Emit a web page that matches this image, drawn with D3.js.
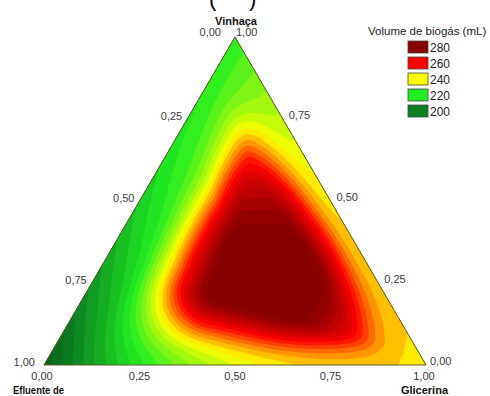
<!DOCTYPE html>
<html>
<head>
<meta charset="utf-8">
<script src="https://cdn.jsdelivr.net/npm/d3@7"></script>
<style>
  body { margin: 0; background: #fff; }
  svg { display: block; }
  text { font-family: Arial, "Liberation Sans", sans-serif; }
</style>
</head>
<body>
<div id="chart"></div>
<script>
const width = 490, height = 396;

// mixture components: left vertex, right vertex, top vertex
const components = ["Efluente de", "Glicerina", "Vinhaça"];
// response surface (mL)
const vertexVolume = [192, 243, 222];          // pure components E, G, V
const binaryTerms = [84, 34, 46];              // E*G, E*V, G*V
const plateauVolume = 285;                     // flat maximum in the middle
// where the rise towards the plateau starts and how wide it is (share of E, G, V)
const rampOffset = [0, 0.022, -0.015];
const offsetGrowth = [0, 0.28, 0];             // extra offset with more Efluente (capped)
const rampWidth = [0.16, 0.243, 0.182];
const widthGrowth = [0, 0.25, 0.4];            // wider towards the Efluente corner
const topRamp = [0.07, 0.6];                   // rounding under the Vinhaça corner
const rightRamp = [0.05, 0.4];                 // rounding beside the Glicerina corner

const tickValues = [0, 0.25, 0.5, 0.75, 1];
const legendLevels = [280, 260, 240, 220, 200];
const legendColors = ["#880000", "#ff0000", "#ffff00", "#22ee22", "#0b7f22"];
const levelStep = 20 / 6;

let svg = d3.select("#chart")
    .append("svg")
    .attr("width", width)
    .attr("height", height);

// x runs along the base (Glicerina share + half of Vinhaça), y is Vinhaça share
let x = d3.scaleLinear().domain([0, 1]).range([44, 426]);
let y = d3.scaleLinear().domain([0, 1]).range([365, 37]);
function toXY(e, g, v) { return [x(g + v / 2), y(v)]; }

function smoothstep(r) {
    r = Math.max(0, Math.min(1, r));
    return r * r * (3 - 2 * r);
}

function volume(e, g, v) {
    let base = vertexVolume[0] * e + vertexVolume[1] * g + vertexVolume[2] * v
        + binaryTerms[0] * e * g + binaryTerms[1] * e * v + binaryTerms[2] * g * v;
    let comp = [e, g, v];
    let s = 1;
    for (let k = 0; k < 3; k++) {
        let o = rampOffset[k] + Math.min(0.05, offsetGrowth[k] * Math.max(0, e - 0.12));
        let w = Math.max(0.08, rampWidth[k] + widthGrowth[k] * (e - 0.3));
        s *= smoothstep((comp[k] - o) / w);
    }
    s *= smoothstep((1 - v - topRamp[0]) / topRamp[1]);
    s *= smoothstep((1 - g - rightRamp[0]) / rightRamp[1]);
    return base + (plateauVolume - base) * s;
}

function volumeAt(px, py) {
    let v = y.invert(py), g = x.invert(px) - v / 2, e = 1 - g - v;
    e = Math.max(e, 0); g = Math.max(g, 0); v = Math.max(v, 0);
    let s = e + g + v;
    return volume(e / s, g / s, v / s);
}

// sample the surface on a pixel grid covering the triangle
const step = 2, gx0 = 40, gy0 = 33;
const nx = Math.ceil((430 - gx0) / step), ny = Math.ceil((369 - gy0) / step);
let grid = new Array(nx * ny);
for (let j = 0; j < ny; j++) {
    for (let i = 0; i < nx; i++) {
        grid[j * nx + i] = volumeAt(gx0 + (i + 0.5) * step, gy0 + (j + 0.5) * step);
    }
}

let color = d3.scaleLinear()
    .domain([188].concat(legendLevels.slice().reverse()))
    .range(["#065a16"].concat(legendColors.slice().reverse()))
    .clamp(true);

let contours = d3.contours()
    .size([nx, ny])
    .thresholds(d3.range(185, 292, levelStep))(grid);

let path = d3.geoPath(d3.geoIdentity().scale(step).translate([gx0, gy0]));

let corners = [toXY(1, 0, 0), toXY(0, 1, 0), toXY(0, 0, 1)];

svg.append("clipPath")
    .attr("id", "tri")
    .append("polygon")
    .attr("points", corners.map(p => p.join(",")).join(" "));

svg.append("g")
    .attr("clip-path", "url(#tri)")
    .selectAll("path")
    .data(contours)
    .enter()
    .append("path")
    .attr("d", path)
    .attr("fill", d => color(d.value));

svg.append("polygon")
    .attr("points", corners.map(p => p.join(",")).join(" "))
    .attr("fill", "none")
    .attr("stroke", "#5c5c28")
    .attr("stroke-width", 1);

// tick labels
let fmt = d => d3.format(".2f")(d).replace(".", ",");
let ticks = svg.append("g")
    .attr("font-size", 11)
    .attr("fill", "#3a3a3a");

// left side: Efluente share, 0 at the top
ticks.selectAll(".tl").data(tickValues).enter().append("text")
    .attr("x", d => toXY(d, 0, 1 - d)[0] - (d === 0 ? 14 : d === 1 ? 9 : 5))
    .attr("y", d => toXY(d, 0, 1 - d)[1] + (d === 0 ? -1 : 1))
    .attr("text-anchor", "end")
    .text(fmt);

// right side: Vinhaça share, 1 at the top
ticks.selectAll(".tr").data(tickValues).enter().append("text")
    .attr("x", d => toXY(0, 1 - d, d)[0] + (d === 1 ? 1 : d === 0 ? 4 : 6))
    .attr("y", d => toXY(0, 1 - d, d)[1] + (d === 1 ? -1 : 0))
    .attr("text-anchor", "start")
    .text(fmt);

// base: Glicerina share
ticks.selectAll(".tb").data(tickValues).enter().append("text")
    .attr("x", d => toXY(1 - d, d, 0)[0] + (d === 0 || d === 1 ? -2 : 0))
    .attr("y", d => toXY(1 - d, d, 0)[1] + 15)
    .attr("text-anchor", "middle")
    .text(fmt);

// component names
let names = svg.append("g")
    .attr("font-size", 11)
    .attr("font-weight", "bold")
    .attr("fill", "#111");
names.append("text").attr("x", 13).attr("y", 394)
    .attr("textLength", 51).attr("lengthAdjust", "spacingAndGlyphs")
    .text(components[0]);
names.append("text").attr("x", 448).attr("y", 394).attr("text-anchor", "end").text(components[1]);
names.append("text").attr("x", 236).attr("y", 25).attr("text-anchor", "middle").text(components[2]);

// bits of the caption cut by the top of the picture
svg.append("text").attr("x", 209).attr("y", 6).attr("font-size", 22).text("(");
svg.append("text").attr("x", 249).attr("y", 6).attr("font-size", 22).text(")");

// legend
let legend = svg.append("g");
legend.append("text")
    .attr("x", 368)
    .attr("y", 35)
    .attr("font-size", 11.5)
    .attr("fill", "#222")
    .text("Volume de biogás (mL)");

let items = legend.selectAll(".item")
    .data(legendLevels)
    .enter()
    .append("g")
    .attr("transform", (d, i) => `translate(408, ${41 + i * 16})`);

items.append("rect")
    .attr("width", 20)
    .attr("height", 12)
    .attr("fill", (d, i) => legendColors[i])
    .attr("stroke", "#444")
    .attr("stroke-width", 0.8);

items.append("text")
    .attr("x", 22)
    .attr("y", 11)
    .attr("font-size", 12)
    .attr("fill", "#222")
    .text(d => d);
</script>
</body>
</html>
